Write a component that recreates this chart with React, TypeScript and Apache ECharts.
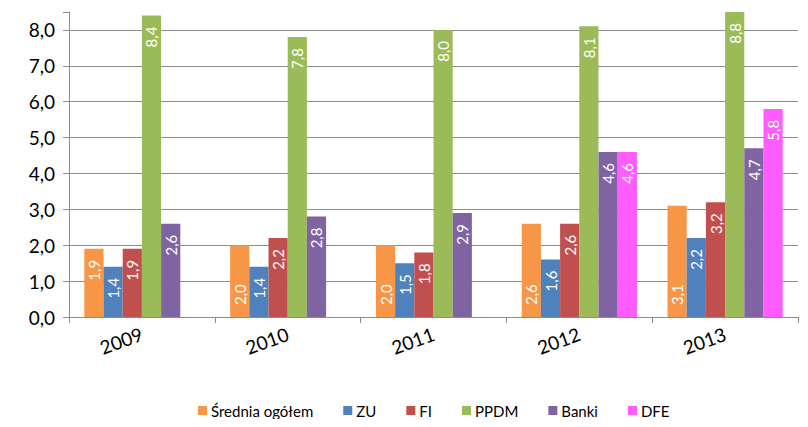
import React, { useEffect, useRef } from "react";
import * as echarts from "echarts";

const categories = ["2009", "2010", "2011", "2012", "2013"];
const seriesNames = ["Średnia ogółem", "ZU", "FI", "PPDM", "Banki", "DFE"];
const sredniaOgolem = [1.9, 2.0, 2.0, 2.6, 3.1];
const zu = [1.4, 1.4, 1.5, 1.6, 2.2];
const fi = [1.9, 2.2, 1.8, 2.6, 3.2];
const ppdm = [8.4, 7.8, 8.0, 8.1, 8.8];
const banki = [2.6, 2.8, 2.9, 4.6, 4.7];
const dfe: (number | null)[] = [null, null, null, 4.6, 5.8];
const yTicks = [0, 1, 2, 3, 4, 5, 6, 7, 8];

const colors = ["#F79646", "#4F81BD", "#C0504D", "#9BBB59", "#8064A2", "#FF5CFF"];
const FONT = "Lato, 'Open Sans', sans-serif";

const fmt = (v: number) => v.toFixed(1).replace(".", ",");

export default function App() {
  const ref = useRef<HTMLDivElement>(null);
  useEffect(() => {
    if (!ref.current) return;
    const chart = echarts.init(ref.current, undefined, { renderer: "svg" });
    const all = [sredniaOgolem, zu, fi, ppdm, banki, dfe];
    const topLabel = {
      show: true,
      position: "insideTop",
      rotate: 90,
      align: "right",
      verticalAlign: "middle",
      distance: 11,
      color: "#fff",
      fontSize: 15,
      fontFamily: FONT,
      formatter: (p: any) => fmt(p.value),
    };
    const bottomLabel = {
      ...topLabel,
      position: "insideBottom",
      align: "left",
      distance: 12,
    };
    const series = all.map((arr, si) => ({
      name: seriesNames[si],
      type: "bar",
      barGap: "0%",
      barCategoryGap: "21%",
      itemStyle: { color: colors[si] },
      data: arr.map((v, ci) => {
        if (v === null) return null;
        const useBottom = si === 0 && ci > 0;
        return { value: v, label: useBottom ? bottomLabel : topLabel };
      }),
    }));
    const gridColors = yTicks.map(() => "#8C8C8C");
    gridColors.push("rgba(0,0,0,0)");
    chart.setOption({
      animation: false,
      color: colors,
      grid: { left: 69, right: 10, top: 12, bottom: 110, containLabel: false },
      legend: {
        data: seriesNames,
        left: 193,
        top: 398,
        itemWidth: 9,
        itemHeight: 9,
        itemGap: 30,
        icon: "rect",
        textStyle: { fontSize: 15, color: "#000", fontFamily: FONT, padding: [0, 0, 0, -1] },
      },
      xAxis: {
        type: "category",
        data: categories,
        axisLine: { lineStyle: { color: "#8C8C8C" } },
        axisTick: { show: true, length: 6, lineStyle: { color: "#8C8C8C" } },
        axisLabel: {
          rotate: 20,
          margin: 16,
          fontSize: 19,
          color: "#000",
          fontFamily: FONT,
        },
      },
      yAxis: {
        type: "value",
        min: 0,
        max: 8.5,
        interval: 1,
        axisLine: { show: true, lineStyle: { color: "#8C8C8C" } },
        axisTick: { show: true, length: 6, lineStyle: { color: "#8C8C8C" } },
        splitLine: { show: true, lineStyle: { color: gridColors, width: 1 } },
        axisLabel: {
          fontSize: 19,
          color: "#000",
          fontFamily: FONT,
          margin: 14,
          formatter: (v: number) => (yTicks.includes(v) ? fmt(v) : ""),
        },
      },
      series,
    });
    return () => chart.dispose();
  }, []);
  return <div ref={ref} style={{ width: 808, height: 427, margin: -8 }} />;
}
